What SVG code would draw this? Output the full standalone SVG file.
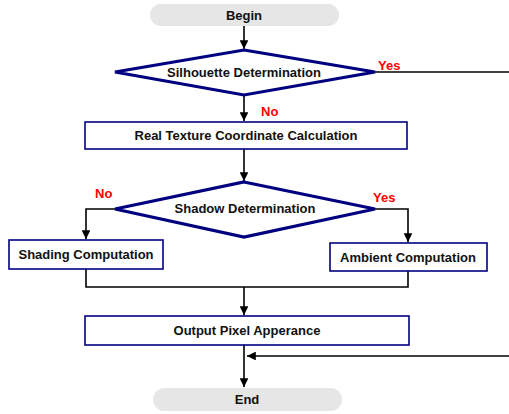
<svg xmlns="http://www.w3.org/2000/svg" width="509" height="414" viewBox="0 0 509 414">
<style>
text{font-family:"Liberation Sans",Arial,sans-serif;font-weight:bold;font-size:13px;fill:#111;text-anchor:middle;dominant-baseline:central}
.lbl{fill:#ff0000;text-anchor:start}
.term{fill:#e6e6e6;stroke:none}
.box{fill:#fff;stroke:#000080;stroke-width:1.6}
.dia{fill:#fff;stroke:#000080;stroke-width:3.2;stroke-linejoin:miter}
.c{fill:none;stroke:#000;stroke-width:1.6}
</style>
<defs>
<marker id="ah" viewBox="0 0 10 10" refX="10" refY="5" markerWidth="5.5" markerHeight="5.5" orient="auto" markerUnits="strokeWidth">
<path d="M0,0 L10,5 L0,10 z" fill="#000"/>
</marker>
</defs>
<g id="connectors">
<path class="c" d="M244,26 V49" marker-end="url(#ah)"/>
<path class="c" d="M244,95 V121" marker-end="url(#ah)"/>
<path class="c" d="M375,72 H509"/>
<path class="c" d="M244,149 V181" marker-end="url(#ah)"/>
<path class="c" d="M115,209 H86 V239" marker-end="url(#ah)"/>
<path class="c" d="M375,209 H408 V242" marker-end="url(#ah)"/>
<path class="c" d="M86,269 V287 H408 V271"/>
<path class="c" d="M244,287 V315" marker-end="url(#ah)"/>
<path class="c" d="M244,345 V387" marker-end="url(#ah)"/>
<path class="c" d="M509,356 H247" marker-end="url(#ah)"/>
</g>
<g id="begin">
<rect class="term" x="150" y="4" width="189" height="22" rx="11"/>
<text x="244" y="15">Begin</text>
</g>
<g id="silhouette">
<polygon class="dia" points="244,50 375,72 244,95 115,72"/>
<text x="244" y="72">Silhouette Determination</text>
</g>
<text class="lbl" x="378" y="65">Yes</text>
<text class="lbl" x="261" y="111">No</text>
<g id="texture">
<rect class="box" x="85" y="122" width="322" height="27"/>
<text x="246" y="135.5">Real Texture Coordinate Calculation</text>
</g>
<g id="shadow">
<polygon class="dia" points="244,182 375,209 244,237 115,209"/>
<text x="245" y="208">Shadow Determination</text>
</g>
<text class="lbl" x="95" y="193">No</text>
<text class="lbl" x="373" y="197">Yes</text>
<g id="shading">
<rect class="box" x="9" y="240" width="154" height="29"/>
<text x="86" y="254.5">Shading Computation</text>
</g>
<g id="ambient">
<rect class="box" x="330" y="243" width="157" height="28"/>
<text x="408" y="257">Ambient Computation</text>
</g>
<g id="output">
<rect class="box" x="85" y="316" width="324" height="29"/>
<text x="247" y="330.5">Output Pixel Apperance</text>
</g>
<g id="end">
<rect class="term" x="153" y="388" width="189" height="23" rx="11.5"/>
<text x="247" y="399.5">End</text>
</g>
</svg>
